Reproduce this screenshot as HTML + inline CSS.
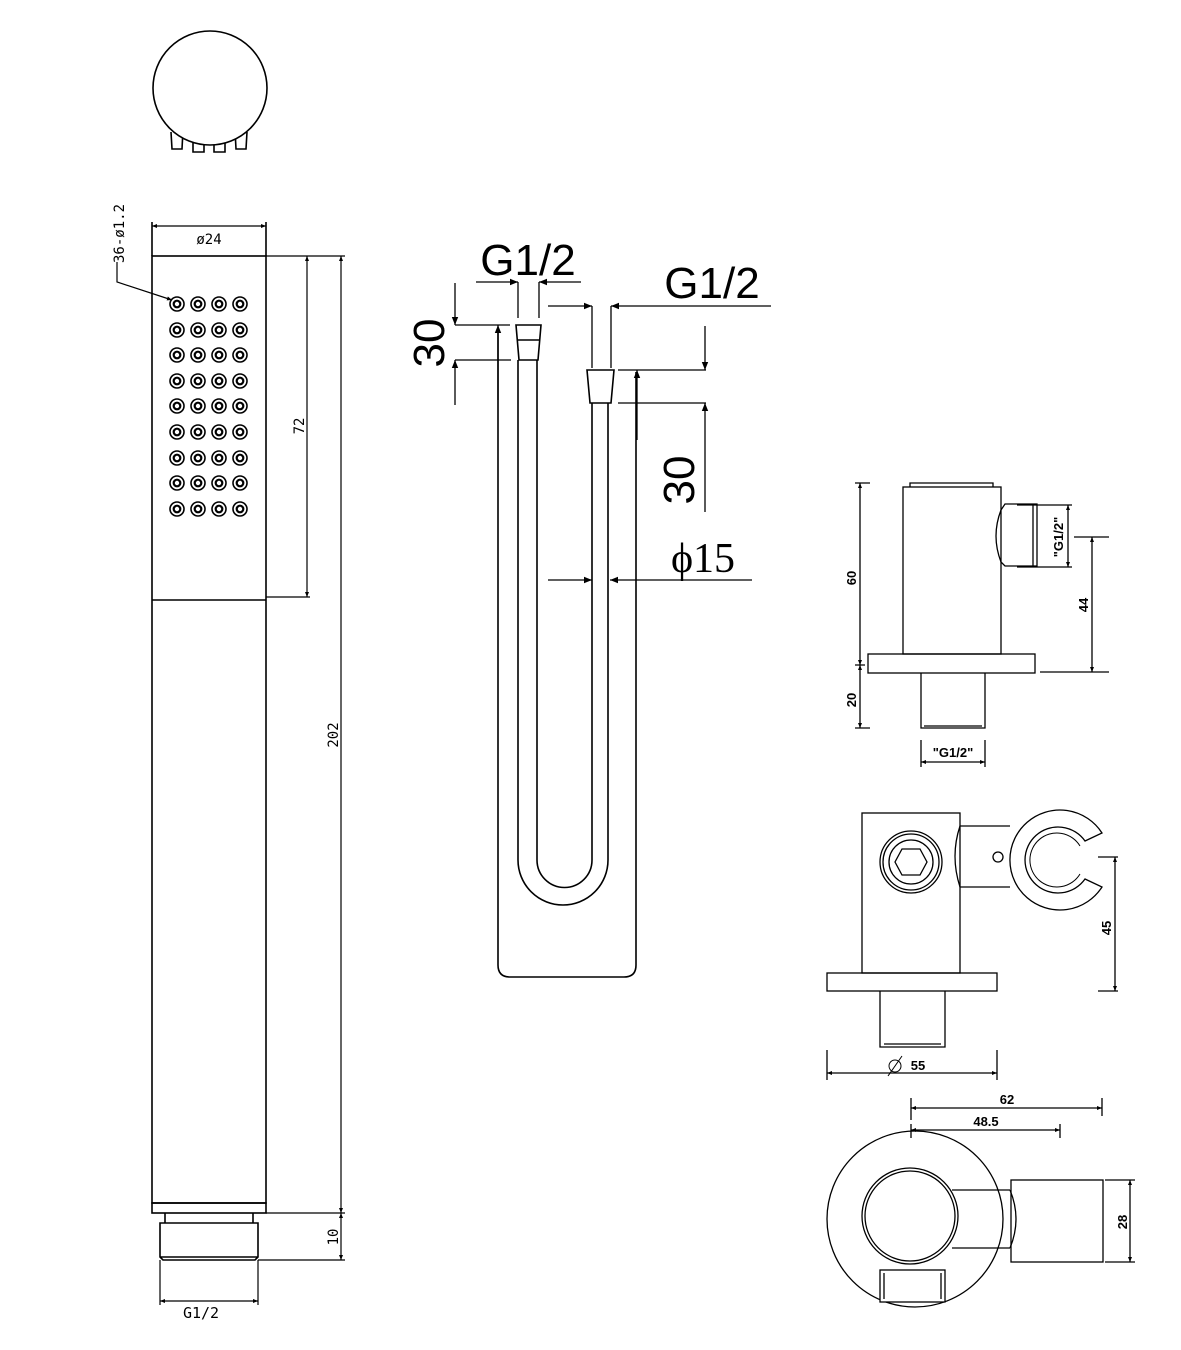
<!DOCTYPE html>
<html><head><meta charset="utf-8"><style>
html,body{margin:0;padding:0;background:#fff}
svg{display:block}
text{font-family:"Liberation Sans",sans-serif;fill:#000}
</style></head><body>
<svg width="1181" height="1350" viewBox="0 0 1181 1350" xmlns="http://www.w3.org/2000/svg">
<defs>
<marker id="a" viewBox="0 0 10 10" refX="10" refY="5" markerWidth="14" markerHeight="8" markerUnits="userSpaceOnUse" orient="auto-start-reverse"><path d="M0,1 L10,5 L0,9 z" fill="#000"/></marker>
<marker id="s" viewBox="0 0 10 10" refX="10" refY="5" markerWidth="10" markerHeight="5" markerUnits="userSpaceOnUse" orient="auto-start-reverse"><path d="M0,1 L10,5 L0,9 z" fill="#000"/></marker>
<g id="h"><circle r="7" fill="none" stroke="#000" stroke-width="1.6"/><circle r="3.3" fill="none" stroke="#000" stroke-width="2.2"/></g>
</defs>
<g fill="none" stroke="#000" stroke-width="1.6">
<!-- top circle -->
<path d="M171,132 l1,17 h10 l1,-19 M193,140 v12 h11 v-12 M214,140 v12 h11 v-12 M235,130 l1,19 h10 l1,-17"/>
<circle cx="210" cy="88" r="57" fill="#fff"/>
<!-- handle -->
<rect x="152" y="256" width="114" height="947"/>
<line x1="152" y1="600" x2="266" y2="600"/>
<rect x="152" y="1203" width="114" height="10"/>
<path d="M165,1213 v10 M253,1213 v10"/>
<path d="M160,1223 h98 v34 l-3,3 h-92 l-3,-3 z M160,1257 h98"/>
<!-- handle dims -->
<path d="M152,222 v34 M266,222 v34"/>
<line x1="152" y1="226" x2="266" y2="226" stroke-width="1.2" marker-start="url(#s)" marker-end="url(#s)"/>
<path d="M117,262 v20 L172,300" stroke-width="1.2" marker-end="url(#s)"/>
<path d="M266,256 h79 M266,597 h44 M266,1213 h79 M258,1260 h87" stroke-width="1.2"/>
<line x1="307" y1="256" x2="307" y2="597" stroke-width="1.2" marker-start="url(#s)" marker-end="url(#s)"/>
<line x1="341" y1="256" x2="341" y2="1213" stroke-width="1.2" marker-start="url(#s)" marker-end="url(#s)"/>
<line x1="341" y1="1213" x2="341" y2="1260" stroke-width="1.2" marker-start="url(#s)" marker-end="url(#s)"/>
<path d="M160,1260 v45 M258,1260 v45" stroke-width="1.2"/>
<line x1="160" y1="1301" x2="258" y2="1301" stroke-width="1.2" marker-start="url(#s)" marker-end="url(#s)"/>
<!-- hose -->
<path d="M498,330 V965 q0,12 12,12 H624 q12,0 12,-12 V372"/>
<path d="M518,360 V860 a45,45 0 0 0 90,0 V403"/>
<path d="M537,360 V860 a27.5,27.5 0 0 0 55,0 V403"/>
<path d="M516,325 h25 l-3,35 h-19 z M517,340 h23"/>
<path d="M587,370 h27 l-3,33 h-21 z"/>
<!-- hose dims -->
<path d="M518,282 v36 M539,282 v36 M592,306 v62 M611,306 v62" stroke-width="1.3"/>
<line x1="476" y1="282" x2="518" y2="282" stroke-width="1.3" marker-end="url(#a)"/>
<line x1="581" y1="282" x2="539" y2="282" stroke-width="1.3" marker-end="url(#a)"/>
<line x1="548" y1="306" x2="592" y2="306" stroke-width="1.3" marker-end="url(#a)"/>
<line x1="771" y1="306" x2="611" y2="306" stroke-width="1.3" marker-end="url(#a)"/>
<path d="M455,325 h55 M455,360 h56 M618,370 h88 M618,403 h88" stroke-width="1.3"/>
<line x1="455" y1="283" x2="455" y2="325" stroke-width="1.3" marker-end="url(#a)"/>
<line x1="455" y1="405" x2="455" y2="360" stroke-width="1.3" marker-end="url(#a)"/>
<line x1="705" y1="326" x2="705" y2="370" stroke-width="1.3" marker-end="url(#a)"/>
<line x1="705" y1="512" x2="705" y2="403" stroke-width="1.3" marker-end="url(#a)"/>
<line x1="498" y1="400" x2="498" y2="325" stroke-width="1.3" marker-end="url(#a)"/>
<line x1="637" y1="440" x2="637" y2="370" stroke-width="1.3" marker-end="url(#a)"/>
<line x1="548" y1="580" x2="592" y2="580" stroke-width="1.3" marker-end="url(#a)"/>
<line x1="752" y1="580" x2="610" y2="580" stroke-width="1.3" marker-end="url(#a)"/>
<!-- wall outlet -->
<g stroke-width="1.3">
<rect x="903" y="487" width="98" height="167"/>
<path d="M910,487 v-4 h83 v4"/>
<path d="M1001,510 q-10,26 0,52 l4,4 h32 v-62 h-32 z M1033,505 v62"/>
<rect x="868" y="654" width="167" height="19"/>
<path d="M921,673 V728 h64 V673 M924,726 h58"/>
<path d="M855,483 h15 M855,665 h10 M855,728 h15 M1017,505 h55 M1017,567 h55 M1074,537 h35 M1040,672 h69 M921,740 v27 M985,740 v27"/>
<line x1="860" y1="483" x2="860" y2="665" marker-start="url(#s)" marker-end="url(#s)"/>
<line x1="860" y1="665" x2="860" y2="728" marker-start="url(#s)" marker-end="url(#s)"/>
<line x1="921" y1="762" x2="985" y2="762" marker-start="url(#s)" marker-end="url(#s)"/>
<line x1="1068" y1="505" x2="1068" y2="567" marker-start="url(#s)" marker-end="url(#s)"/>
<line x1="1092" y1="537" x2="1092" y2="672" marker-start="url(#s)" marker-end="url(#s)"/>
<!-- holder -->
<rect x="862" y="813" width="98" height="160"/>
<circle cx="911" cy="862" r="31"/><circle cx="911" cy="862" r="28"/><circle cx="911" cy="862" r="22"/>
<path d="M902,849 h18 l7,13 l-7,13 h-18 l-7,-13 z"/>
<path d="M960,826 h50 M960,887 h50 M960,826 q-10,30 0,61"/>
<circle cx="998" cy="857" r="5"/>
<path d="M1102,833 A50,50 0 1 0 1102,887 L1085,879 A33,33 0 1 1 1085,841 Z"/>
<path d="M1080,846 A27,27 0 1 0 1080,874" stroke-width="1"/>
<rect x="827" y="973" width="170" height="18"/>
<path d="M880,991 V1047 h65 V991 M884,1044 h57"/>
<path d="M1098,857 h20 M1098,991 h20 M827,1050 v30 M997,1050 v30"/>
<line x1="1115" y1="857" x2="1115" y2="991" marker-start="url(#s)" marker-end="url(#s)"/>
<line x1="827" y1="1073" x2="997" y2="1073" marker-start="url(#s)" marker-end="url(#s)"/>
<circle cx="895" cy="1066" r="6" stroke-width="1"/><line x1="888" y1="1076" x2="902" y2="1056" stroke-width="1"/>
<!-- bottom view -->
<circle cx="915" cy="1219" r="88"/>
<circle cx="910" cy="1216" r="48"/><circle cx="910" cy="1216" r="45"/>
<path d="M952,1190 h58 M952,1248 h58 M1010,1190 q12,29 0,58"/>
<rect x="1011" y="1180" width="92" height="82"/>
<rect x="880" y="1270" width="65" height="32" fill="#fff"/><path d="M884,1273 v26 M941,1273 v26"/>
<path d="M911,1098 v22 M911,1124 v14 M1102,1098 v18 M1060,1124 v14 M1105,1180 h30 M1105,1262 h30"/>
<line x1="911" y1="1108" x2="1102" y2="1108" marker-start="url(#s)" marker-end="url(#s)"/>
<line x1="911" y1="1130" x2="1060" y2="1130" marker-start="url(#s)" marker-end="url(#s)"/>
<line x1="1130" y1="1180" x2="1130" y2="1262" marker-start="url(#s)" marker-end="url(#s)"/>
</g>
</g>
<!-- holes -->
<g>
<use href="#h" x="177" y="304"/><use href="#h" x="198" y="304"/><use href="#h" x="219" y="304"/><use href="#h" x="240" y="304"/>
<use href="#h" x="177" y="330"/><use href="#h" x="198" y="330"/><use href="#h" x="219" y="330"/><use href="#h" x="240" y="330"/>
<use href="#h" x="177" y="355"/><use href="#h" x="198" y="355"/><use href="#h" x="219" y="355"/><use href="#h" x="240" y="355"/>
<use href="#h" x="177" y="381"/><use href="#h" x="198" y="381"/><use href="#h" x="219" y="381"/><use href="#h" x="240" y="381"/>
<use href="#h" x="177" y="406"/><use href="#h" x="198" y="406"/><use href="#h" x="219" y="406"/><use href="#h" x="240" y="406"/>
<use href="#h" x="177" y="432"/><use href="#h" x="198" y="432"/><use href="#h" x="219" y="432"/><use href="#h" x="240" y="432"/>
<use href="#h" x="177" y="458"/><use href="#h" x="198" y="458"/><use href="#h" x="219" y="458"/><use href="#h" x="240" y="458"/>
<use href="#h" x="177" y="483"/><use href="#h" x="198" y="483"/><use href="#h" x="219" y="483"/><use href="#h" x="240" y="483"/>
<use href="#h" x="177" y="509"/><use href="#h" x="198" y="509"/><use href="#h" x="219" y="509"/><use href="#h" x="240" y="509"/>
</g>
<!-- texts -->
<text x="209" y="244" font-size="14" text-anchor="middle" style="font-family:'DejaVu Sans Mono',monospace">ø24</text>
<text transform="translate(124,263) rotate(-90)" font-size="14" style="font-family:'DejaVu Sans Mono',monospace">36-ø1.2</text>
<text transform="translate(304,426) rotate(-90)" font-size="14" text-anchor="middle" style="font-family:'DejaVu Sans Mono',monospace">72</text>
<text transform="translate(338,735) rotate(-90)" font-size="14" text-anchor="middle" style="font-family:'DejaVu Sans Mono',monospace">202</text>
<text transform="translate(338,1237) rotate(-90)" font-size="14" text-anchor="middle" style="font-family:'DejaVu Sans Mono',monospace">10</text>
<text x="201" y="1318" font-size="15" text-anchor="middle" style="font-family:'DejaVu Sans Mono',monospace">G1/2</text>
<text x="528" y="275" font-size="44" text-anchor="middle">G1/2</text>
<text x="712" y="298" font-size="44" text-anchor="middle">G1/2</text>
<text transform="translate(444,343) rotate(-90)" font-size="44" text-anchor="middle">30</text>
<text transform="translate(694,480) rotate(-90)" font-size="44" text-anchor="middle">30</text>
<text x="703" y="572" font-size="42" text-anchor="middle" style="font-family:'Liberation Serif',serif">ϕ15</text>
<g font-weight="bold" font-size="13">
<text transform="translate(856,578) rotate(-90)" text-anchor="middle">60</text>
<text transform="translate(856,700) rotate(-90)" text-anchor="middle">20</text>
<text x="953" y="757" text-anchor="middle">"G1/2"</text>
<text transform="translate(1063,537) rotate(-90)" text-anchor="middle">"G1/2"</text>
<text transform="translate(1088,605) rotate(-90)" text-anchor="middle">44</text>
<text transform="translate(1111,928) rotate(-90)" text-anchor="middle">45</text>
<text x="918" y="1070" text-anchor="middle">55</text>
<text x="1007" y="1104" text-anchor="middle">62</text>
<text x="986" y="1126" text-anchor="middle">48.5</text>
<text transform="translate(1127,1222) rotate(-90)" text-anchor="middle">28</text>
</g>
</svg>
</body></html>
